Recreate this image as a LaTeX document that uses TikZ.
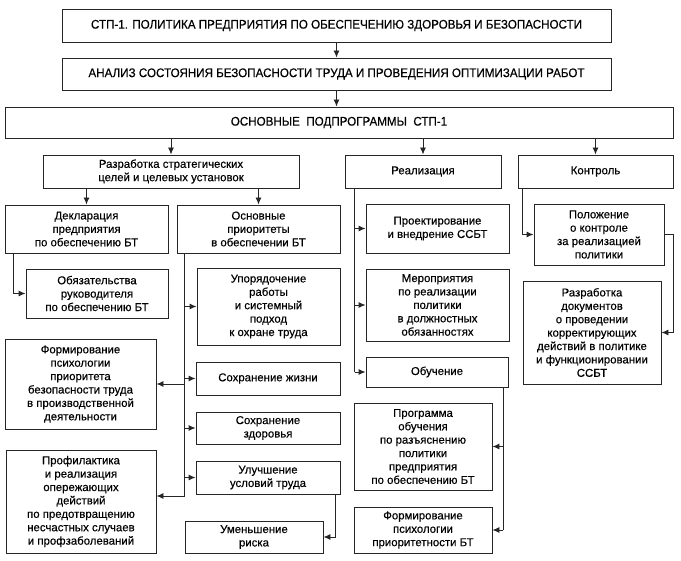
\documentclass[tikz,border=0pt]{standalone}
\usepackage{fontspec}
\setmainfont{Liberation Sans}[FakeBold=0.35]
\newfontfamily\titlefont[FakeStretch=0.93,FakeBold=0.35]{Liberation Sans}
\usetikzlibrary{arrows.meta}
\tikzset{
  box/.style={draw=black!85, line width=0.9pt, rectangle, inner sep=0pt, align=center,
    font=\fontsize{11.4}{13.4}\selectfont},
  tbox/.style={box, font=\titlefont\fontsize{12.5}{14}\selectfont},
  link/.style={draw=black!85, line width=0.9pt},
  arr/.style={link, -{Latex[length=7pt,width=6pt]}}
}
\begin{document}
\begin{tikzpicture}[x=1pt,y=-1pt]
\useasboundingbox (0,0) rectangle (681,561);
% top level
\node[tbox, minimum width=549pt, minimum height=33pt] (b1) at (336.5,25.5) {СТП-1. ПОЛИТИКА ПРЕДПРИЯТИЯ ПО ОБЕСПЕЧЕНИЮ ЗДОРОВЬЯ И БЕЗОПАСНОСТИ};
\node[tbox, minimum width=549pt, minimum height=32pt] (b2) at (336.5,74) {АНАЛИЗ СОСТОЯНИЯ БЕЗОПАСНОСТИ ТРУДА И ПРОВЕДЕНИЯ ОПТИМИЗАЦИИ РАБОТ};
\node[tbox, minimum width=668pt, minimum height=31pt] (b3) at (339,122.5) {ОСНОВНЫЕ\ \ ПОДПРОГРАММЫ\ \ СТП-1};
% second level
\node[box, minimum width=256pt, minimum height=33pt] (razr) at (171,171.5) {Разработка стратегических\\целей и целевых установок};
\node[box, minimum width=156pt, minimum height=33pt] (real) at (423,171.5) {Реализация};
\node[box, minimum width=155pt, minimum height=33pt] (kontr) at (595.5,171.5) {Контроль};
% left branch
\node[box, minimum width=163pt, minimum height=48pt] (decl) at (86.5,229) {Декларация\\предприятия\\по обеспечению БТ};
\node[box, minimum width=163pt, minimum height=48pt] (osn) at (258.5,229) {Основные\\приоритеты\\в обеспечении БТ};
\node[box, minimum width=142pt, minimum height=49pt] (obyaz) at (97,293.5) {Обязательства\\руководителя\\по обеспечению БТ};
\node[box, minimum width=143pt, minimum height=77pt] (upor) at (268.5,306.5) {Упорядочение\\работы\\и системный\\подход\\к охране труда};
\node[box, minimum width=151pt, minimum height=90pt] (form1) at (80.5,384) {Формирование\\психологии\\приоритета\\безопасности труда\\в производственной\\деятельности};
\node[box, minimum width=144pt, minimum height=33pt] (zhizn) at (268,378.5) {Сохранение жизни};
\node[box, minimum width=144pt, minimum height=32pt] (zdor) at (268,428) {Сохранение\\здоровья};
\node[box, minimum width=144pt, minimum height=33pt] (uluch) at (268,477.5) {Улучшение\\условий труда};
\node[box, minimum width=138pt, minimum height=32pt] (umen) at (254,537) {Уменьшение\\риска};
\node[box, minimum width=150pt, minimum height=103pt] (prof) at (81,501.5) {Профилактика\\и реализация\\опережающих\\действий\\по предотвращению\\несчастных случаев\\и профзаболеваний};
% middle branch
\node[box, minimum width=143pt, minimum height=49pt] (proekt) at (437.5,228.5) {Проектирование\\и внедрение ССБТ};
\node[box, minimum width=143pt, minimum height=72pt] (merop) at (437.5,305) {Мероприятия\\по реализации\\политики\\в должностных\\обязанностях};
\node[box, minimum width=142pt, minimum height=30pt] (obuch) at (437,372) {Обучение};
\node[box, minimum width=138pt, minimum height=87pt] (prog) at (423,446.5) {Программа\\обучения\\по разъяснению\\политики\\предприятия\\по обеспечению БТ};
\node[box, minimum width=138pt, minimum height=46pt] (form2) at (423,530) {Формирование\\психологии\\приоритетности БТ};
% right branch
\node[box, minimum width=130pt, minimum height=61pt] (polozh) at (599,234.5) {Положение\\о контроле\\за реализацией\\политики};
\node[box, minimum width=138pt, minimum height=103pt] (razrdoc) at (592,332.5) {Разработка\\документов\\о проведении\\корректирующих\\действий в политике\\и функционировании\\ССБТ};
% connectors top
\draw[arr] (b1.south) -- (b2.north);
\draw[arr] (b2.south) -- (b2.south |- b3.north);
\draw[arr] (b3.south -| razr.north) -- (razr.north);
\draw[arr] (b3.south -| real.north) -- (real.north);
\draw[arr] (b3.south -| kontr.north) -- (kontr.north);
\draw[arr] (razr.south -| decl.north) -- (decl.north);
\draw[arr] (razr.south -| osn.north) -- (osn.north);
% left
\draw[arr] ([xshift=9pt]decl.south west) |- (obyaz.west);
\coordinate (sp) at ([xshift=8pt]osn.south west);
\coordinate (sb) at (sp |- 0,496);
\draw[link] (sp) -- (sb);
\draw[arr] (sp |- upor.west) -- (upor.west);
\draw[arr] (sp |- zhizn.west) -- (zhizn.west);
\draw[arr] (sp |- zdor.west) -- (zdor.west);
\draw[arr] (sp |- uluch.west) -- (uluch.west);
\draw[arr] (sp |- form1.east) -- (form1.east);
\draw[arr] (sb) -- (sb -| prof.east);
\draw[arr] ([xshift=-5pt]uluch.south east) |- (umen.east);
% middle
\coordinate (rp) at ([xshift=10pt]real.south west);
\draw[link] (rp) -- (rp |- obuch.west);
\draw[arr] (rp |- proekt.west) -- (proekt.west);
\draw[arr] (rp |- merop.west) -- (merop.west);
\draw[arr] (rp |- obuch.west) -- (obuch.west);
\coordinate (op) at ([xshift=-5pt]obuch.south east);
\draw[link] (op) -- (op |- form2.east);
\draw[arr] (op |- prog.east) -- (prog.east);
\draw[arr] (op |- form2.east) -- (form2.east);
% right
\draw[arr] ([xshift=5pt]kontr.south west) |- (polozh.west);
\coordinate (kp) at ([xshift=9pt]polozh.east);
\draw[arr] (polozh.east) -- (kp) |- (razrdoc.east);
\end{tikzpicture}
\end{document}
